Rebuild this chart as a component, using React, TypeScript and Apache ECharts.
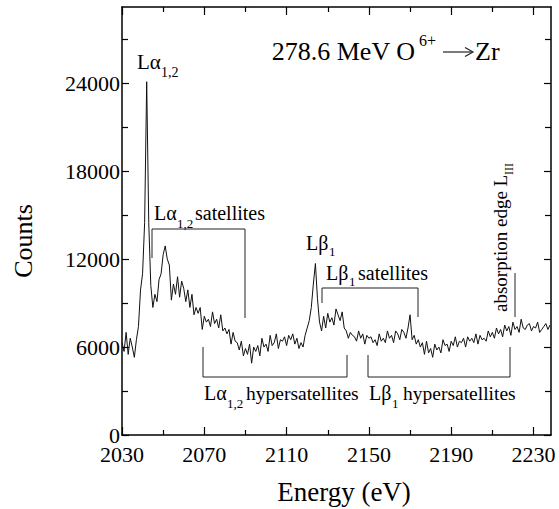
import React, { useEffect, useRef } from "react";
import * as echarts from "echarts";

// Energy grid (eV): first channel and channel width
const ENERGY_START = 2030;
const ENERGY_STEP = 1;

// Counts per channel, 2030 ... 2238 eV
const counts = [
  6300, 5700, 7000, 5500, 6600, 6000, 5300, 6500, 7400, 9900,
  11000, 14500, 24100, 14500, 10200, 8700, 9600, 9100, 10600, 11000,
  12300, 12900, 12000, 11600, 9200, 10300, 9600, 10800, 9400, 10500,
  10000, 9100, 9900, 8700, 9600, 8200, 8700, 8300, 8700, 7200,
  8100, 7700, 7900, 7400, 8400, 7600, 7900, 7300, 8200, 7100,
  7300, 6900, 7200, 6200, 7000, 6400, 6300, 5800, 6400, 5400,
  5900, 5500, 6200, 4900, 6000, 5700, 6100, 5400, 6600, 6000,
  6200, 5700, 6800, 6100, 6300, 6900, 5900, 6500, 6400, 6700,
  6100, 6800, 6500, 6900, 6200, 6600, 5900, 6300, 6000, 6800,
  7300, 7800, 8700, 10300, 11700, 9300, 7700, 7100, 8100, 7300,
  8300, 7700, 8000, 7500, 8600, 8200, 7800, 8400, 7300, 7100,
  6600, 7000, 6800, 6700, 6400, 7100, 6600, 6900, 6200, 6800,
  6600, 6700, 6300, 6500, 6100, 6900, 6400, 6600, 6300, 7100,
  6600, 6800, 6300, 7100, 6900, 6500, 7200, 7000, 6600, 7300,
  8200, 6500, 6800, 6200, 6500, 6000, 6300, 5500, 6400, 5600,
  5900, 5300, 6200, 5800, 6000, 5600, 6500, 6100, 6200, 5700,
  6400, 6100, 6700, 6000, 6400, 6300, 6600, 6000, 6700, 6400,
  6600, 6300, 6900, 6200, 6800, 6500, 6600, 6400, 7100, 6700,
  7000, 6600, 7300, 6900, 7200, 6700, 7500, 7100, 7400, 6800,
  7700, 7200, 7400, 7000, 7900, 7300, 7200, 7500, 7600, 7100,
  7400, 7300, 7700, 7000, 7200, 7400, 7600, 7200, 7500,
];

// Axis ranges and ticks
const X_MIN = 2030;
const X_MAX = 2238.5;
const Y_MIN = 0;
const Y_MAX = 29200;
const xMajorTicks = [2030, 2070, 2110, 2150, 2190, 2230];
const xMinorTicks = [2050, 2090, 2130, 2170, 2210];
const yMajorTicks = [0, 6000, 12000, 18000, 24000];
const yMinorTicks = [3000, 9000, 15000, 21000, 27000];

const FONT = "Liberation Serif";
const INK = "#000";

function txt(text: string, x: number, y: number, size: number, extra: any = {}) {
  return {
    type: "text",
    x,
    y,
    silent: true,
    style: {
      text,
      fontSize: size,
      fontFamily: FONT,
      fill: INK,
      align: extra.align || "left",
      verticalAlign: "middle",
    },
    rotation: extra.rotation || 0,
  };
}

function bracket(points: number[][], width = 1) {
  return {
    type: "polyline",
    silent: true,
    shape: { points },
    style: { stroke: "#222", lineWidth: width, fill: "none" },
  };
}

const plain = (v: number) => String(v);

function xAxisDef(position: "bottom" | "top", ticks: number[], len: number, withLine: boolean, withLabels: boolean) {
  return {
    type: "value",
    position,
    min: X_MIN,
    max: X_MAX,
    axisLine: { show: withLine, onZero: false, lineStyle: { color: INK, width: 1.5 } },
    axisTick: { show: true, inside: true, length: len, customValues: ticks, lineStyle: { color: INK, width: 1.2 } },
    axisLabel: {
      show: withLabels,
      customValues: ticks,
      formatter: plain,
      margin: 8,
      color: INK,
      fontSize: 22,
      fontFamily: FONT,
    },
    splitLine: { show: false },
  };
}

function yAxisDef(position: "left" | "right", ticks: number[], len: number, withLine: boolean, withLabels: boolean) {
  return {
    type: "value",
    position,
    min: Y_MIN,
    max: Y_MAX,
    axisLine: { show: withLine, onZero: false, lineStyle: { color: INK, width: 1.5 } },
    axisTick: { show: true, inside: true, length: len, customValues: ticks, lineStyle: { color: INK, width: 1.2 } },
    axisLabel: {
      show: withLabels,
      customValues: ticks,
      formatter: plain,
      margin: 2,
      color: INK,
      fontSize: 22,
      fontFamily: FONT,
    },
    splitLine: { show: false },
  };
}

export default function App() {
  const ref = useRef<HTMLDivElement>(null);

  useEffect(() => {
    if (!ref.current) return;
    const chart = echarts.init(ref.current, undefined, { renderer: "svg" });
    const data = counts.map((c, i) => [ENERGY_START + i * ENERGY_STEP, c]);

    chart.setOption({
      animation: false,
      backgroundColor: "#fff",
      textStyle: { fontFamily: FONT },
      grid: { left: 122, right: 8, top: 7, bottom: 74, containLabel: false },
      xAxis: [
        xAxisDef("bottom", xMajorTicks, 8, true, true),
        xAxisDef("bottom", xMinorTicks, 5, false, false),
        xAxisDef("top", xMajorTicks, 8, true, false),
        xAxisDef("top", xMinorTicks, 5, false, false),
      ],
      yAxis: [
        yAxisDef("left", yMajorTicks, 7, true, true),
        yAxisDef("left", yMinorTicks, 6, false, false),
        yAxisDef("right", yMajorTicks, 7, true, false),
        yAxisDef("right", yMinorTicks, 6, false, false),
      ],
      series: [
        {
          type: "line",
          xAxisIndex: 0,
          yAxisIndex: 0,
          data,
          showSymbol: false,
          symbol: "none",
          lineStyle: { color: "#111", width: 1 },
          silent: true,
        },
      ],
      graphic: [
        // axis titles
        txt("Counts", 23, 241, 26, { align: "center", rotation: Math.PI / 2 }),
        txt("Energy (eV)", 344, 492, 27, { align: "center" }),
        // title
        txt("278.6 MeV O", 415, 51, 26, { align: "right" }),
        txt("6+", 419, 40, 16),
        bracket([[443, 52], [472, 52]], 1.2),
        bracket([[465, 47.5], [473, 52], [465, 56.5]], 1.2),
        txt("Zr", 475, 51, 26),
        // L alpha 1,2 peak
        txt("L\u03b1", 137, 62, 21),
        txt("1,2", 161, 72, 14),
        // L alpha satellites
        txt("L\u03b1", 154, 213, 20),
        txt("1,2", 177, 223, 13),
        txt("satellites", 195, 213, 20),
        bracket([[152, 258], [152, 229], [245, 229], [245, 318]]),
        // L beta 1 peak
        txt("L\u03b2", 306, 243, 20),
        txt("1", 329, 251, 13),
        // L beta satellites
        txt("L\u03b2", 326, 273, 20),
        txt("1", 349, 281, 13),
        txt("satellites", 358, 273, 20),
        bracket([[322, 303], [322, 288], [418, 288], [418, 317]]),
        // hypersatellites
        bracket([[203, 347], [203, 377], [347, 377], [347, 355]]),
        bracket([[368, 355], [368, 377], [510, 377], [510, 347]]),
        txt("L\u03b1", 204, 393, 20),
        txt("1,2", 227, 403, 13),
        txt("hypersatellites", 246, 393, 19.5),
        txt("L\u03b2", 369, 393, 20),
        txt("1", 392, 403, 13),
        txt("hypersatellites", 403, 393, 19.5),
        // absorption edge
        txt("absorption edge L", 500, 312, 19, { rotation: Math.PI / 2 }),
        txt("III", 509, 175, 12, { rotation: Math.PI / 2 }),
        bracket([[515, 273], [515, 317]]),
      ],
    });

    return () => chart.dispose();
  }, []);

  return (
    <div
      ref={ref}
      style={{ position: "absolute", left: 0, top: 0, width: 559, height: 509, background: "#fff" }}
    />
  );
}
